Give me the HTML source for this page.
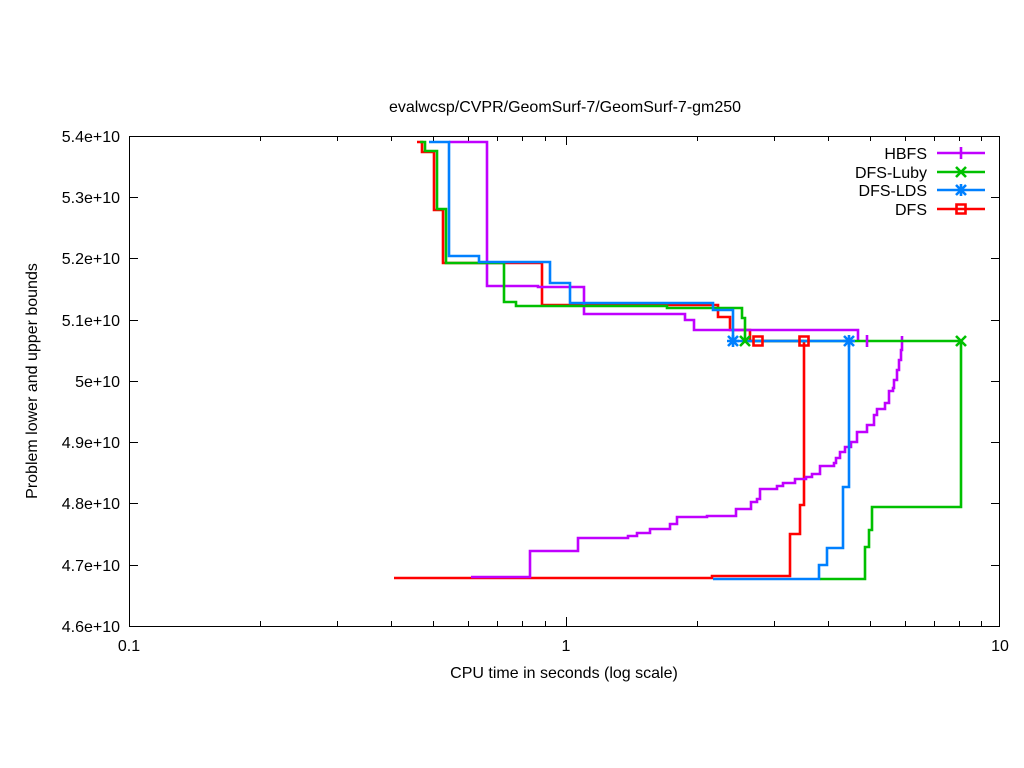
<!DOCTYPE html>
<html><head><style>body{margin:0;background:#fff}svg{display:block}text{font-family:"Liberation Sans",sans-serif;font-size:16px;fill:#000}</style></head><body>
<svg width="1024" height="768" viewBox="0 0 1024 768" xmlns="http://www.w3.org/2000/svg">
<rect width="1024" height="768" fill="#fff"/>
<text x="565" y="112" text-anchor="middle">evalwcsp/CVPR/GeomSurf-7/GeomSurf-7-gm250</text>
<g stroke="#000" stroke-width="1" fill="none">
<rect x="129.5" y="136.5" width="870" height="490"/>
<path d="M129,136.5h9M129,197.5h9M129,258.5h9M129,320.5h9M129,381.5h9M129,442.5h9M129,503.5h9M129,565.5h9
M1000,136.5h-9M1000,197.5h-9M1000,258.5h-9M1000,320.5h-9M1000,381.5h-9M1000,442.5h-9M1000,503.5h-9M1000,565.5h-9
M566.5,626v-9M566.5,136v9
M260.5,626v-5M337.5,626v-5M391.5,626v-5M433.5,626v-5M468.5,626v-5M497.5,626v-5M522.5,626v-5M545.5,626v-5
M697.5,626v-5M774.5,626v-5M828.5,626v-5M870.5,626v-5M905.5,626v-5M934.5,626v-5M959.5,626v-5M981.5,626v-5
M260.5,136v5M337.5,136v5M391.5,136v5M433.5,136v5M468.5,136v5M497.5,136v5M522.5,136v5M545.5,136v5
M697.5,136v5M774.5,136v5M828.5,136v5M870.5,136v5M905.5,136v5M934.5,136v5M959.5,136v5M981.5,136v5"/>
</g>
<g text-anchor="end">
<text x="120" y="142">5.4e+10</text><text x="120" y="203">5.3e+10</text><text x="120" y="264">5.2e+10</text><text x="120" y="326">5.1e+10</text><text x="120" y="387">5e+10</text><text x="120" y="448">4.9e+10</text><text x="120" y="509">4.8e+10</text><text x="120" y="571">4.7e+10</text><text x="120" y="632">4.6e+10</text>
</g>
<g text-anchor="middle"><text x="129" y="651">0.1</text><text x="566" y="651">1</text><text x="1000" y="651">10</text></g>
<text x="564" y="678" text-anchor="middle">CPU time in seconds (log scale)</text>
<text transform="translate(37,381) rotate(-90)" text-anchor="middle">Problem lower and upper bounds</text>
<g fill="none" stroke-width="2.6">
<path stroke="#ff0000" d="M417,142H422V152H434V210H443V263H542V305H718V317H730V330H750V341H804"/>
<path stroke="#ff0000" d="M394,578H712V576H790V534H800V505H804V341"/>
<path stroke="#c000ff" d="M449,142H487V286H538V287H584V314H685V320H694V330H858V341"/>
<path stroke="#c000ff" d="M471,577H530V551H578V538H628V536H637V533H650V529H670V524H677V517H707V516H736V509H751V502H757V499H760V489H777V486H783V483H795V479H806V477H812V474H820V466H834V463H836V458H840V452H845V447H851V442H857V432H867V425H874V415H877V409H885V403H889V391H893V388H894V380H897V370H899V360H901V350H902V336"/>
<path stroke="#00c000" d="M420,142H425V151H437V209H446V263H504V302H516V306H667V308H742V318H745V341H961V507H872V530H869V547H865V579H820"/>
<path stroke="#0080ff" d="M429,142H449V256H479V262H550V283H570V303H713V310H733V341H849V487H843V548H827V565H819V579H713"/>
</g>
<g stroke-width="2.6" fill="none">
<path stroke="#c000ff" d="M867,335v12M937,153h48M961,147v12"/>
<path stroke="#00c000" d="M740,336l10,10M750,336l-10,10M956,336l10,10M966,336l-10,10M937,172h48M956,167l10,10M966,167l-10,10"/>
<path stroke="#0080ff" d="M728,336l10,10M738,336l-10,10M727,341h12M733,335v12M844,336l10,10M854,336l-10,10M843,341h12M849,335v12M937,190h48M956,185l10,10M966,185l-10,10M955,190h12M961,184v12"/>
<path stroke="#ff0000" d="M753.5,336.5h9v9h-9zM799.5,336.5h9v9h-9zM937,209h48M956.5,204.5h9v9h-9z"/>
</g>
<g text-anchor="end"><text x="927" y="159">HBFS</text><text x="927" y="178">DFS-Luby</text><text x="927" y="196">DFS-LDS</text><text x="927" y="215">DFS</text></g>
</svg>
</body></html>
